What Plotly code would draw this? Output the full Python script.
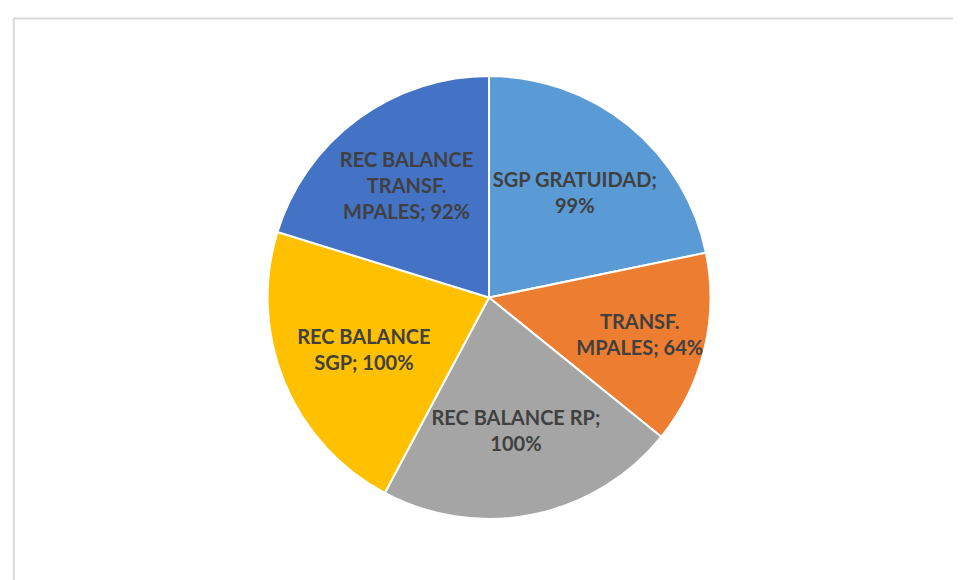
import plotly.graph_objects as go

categories = ["SGP GRATUIDAD", "TRANSF. MPALES", "REC BALANCE RP", "REC BALANCE SGP", "REC BALANCE TRANSF. MPALES"]
display_labels = ["SGP GRATUIDAD;<br>", "TRANSF.<br>MPALES; ", "REC BALANCE RP;<br>", "REC BALANCE<br>SGP; ", "REC BALANCE<br>TRANSF.<br>MPALES; "]
values = [99, 64, 100, 100, 92]
colors = ["#5B9BD5", "#ED7D31", "#A5A5A5", "#FFC000", "#4472C4"]

fig = go.Figure(go.Pie(
    labels=categories,
    values=values,
    customdata=display_labels,
    texttemplate="%{customdata}%{value}%",
    textposition="inside",
    insidetextorientation="horizontal",
    sort=False,
    direction="clockwise",
    rotation=0,
    marker=dict(colors=colors, line=dict(color="white", width=2)),
    textfont=dict(family="Lato", size=20.5, color="#404040", weight="bold"),
    domain=dict(x=[0.2701, 0.7310], y=[0.1180, 0.8836]),
    showlegend=False,
    hoverinfo="label+value",
))

fig.update_layout(
    width=961, height=580,
    margin=dict(l=0, r=0, t=0, b=0),
    paper_bgcolor="white",
    uniformtext=dict(minsize=20, mode="show"),
    shapes=[
        dict(type="line", xref="paper", yref="paper", x0=0.006, x1=1.0, y0=0.982, y1=0.982,
             line=dict(color="#D9D9D9", width=2)),
        dict(type="line", xref="paper", yref="paper", x0=0.006, x1=0.006, y0=0.0, y1=0.982,
             line=dict(color="#D9D9D9", width=2)),
    ],
)

fig.write_html("out.html")
